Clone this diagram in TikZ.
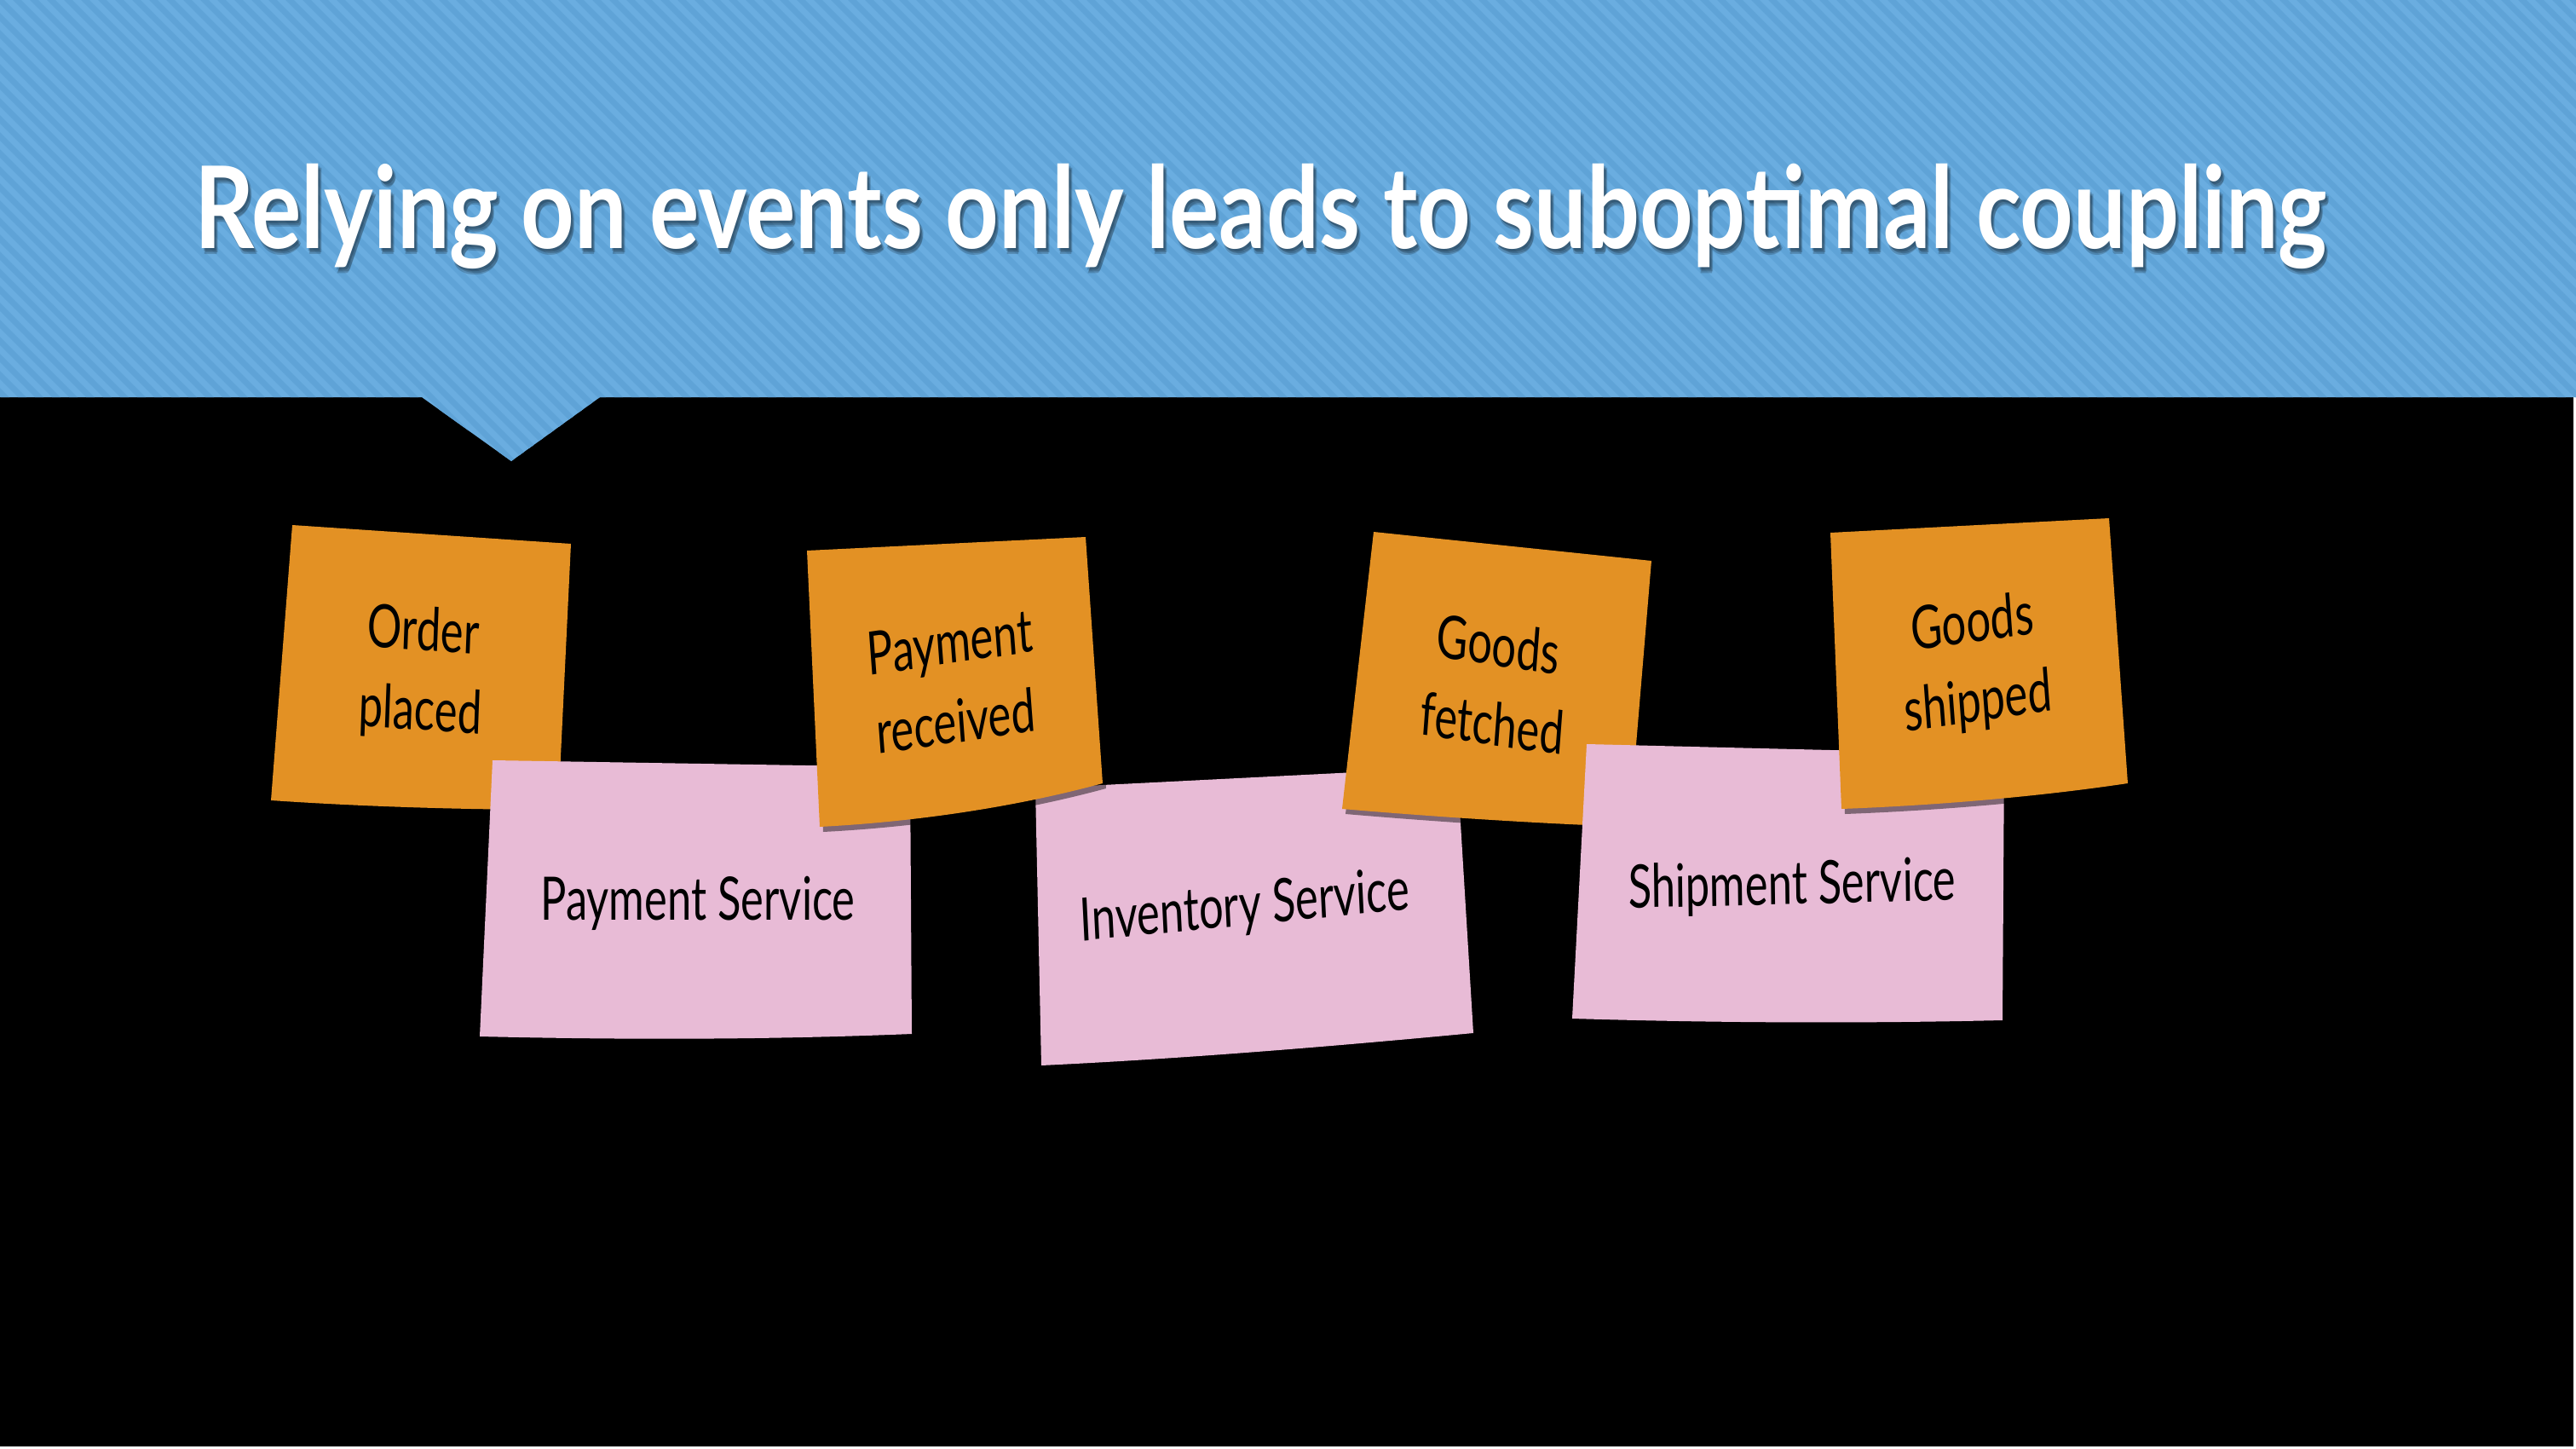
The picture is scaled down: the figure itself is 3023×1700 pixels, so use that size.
\documentclass[tikz,border=0pt]{standalone}
\usepackage{fontspec}
\setmainfont{Lato}
\usepackage{graphicx}

\definecolor{skyA}{HTML}{6AADE0}
\definecolor{skyB}{HTML}{5FA3D7}
\definecolor{noteorange}{HTML}{E39124}
\definecolor{notepink}{HTML}{E8BBD6}

\tikzset{
  eventnote/.style={fill=noteorange,
    preaction={fill=black, fill opacity=0.45,
      transform canvas={xshift=0.04cm, yshift=-0.06cm}}},
  servicenote/.style={fill=notepink,
    preaction={fill=black, fill opacity=0.45,
      transform canvas={xshift=0.04cm, yshift=-0.06cm}}},
  notetext/.style={font=\fontsize{20}{26.5}\selectfont, align=center,
    text=black, xscale=0.72, inner sep=0pt},
  titletext/.style={font=\bfseries\fontsize{38}{40}\selectfont,
    anchor=base west, inner sep=0pt},
}

\newcommand{\slidetitle}{\resizebox{25cm}{\height}{Relying on events only leads to suboptimal coupling}}

\begin{document}
\begin{tikzpicture}[x=0.01cm, y=-0.01cm]
  \useasboundingbox (0,0) rectangle (3023,1700);
  % slide background with its thin light frame
  \fill[white] (0,0) rectangle (3023,1700);
  \fill[black] (0,0) rectangle (3020,1697);

  % striped header banner with the pointer notch
  \fill[skyA] (0,0) -- (3023,0) -- (3023,466) -- (704,466) -- (600,541)
     -- (495,466) -- (0,466) -- cycle;
  \begin{scope}
    \clip (0,0) -- (3023,0) -- (3023,466) -- (704,466) -- (600,541)
       -- (495,466) -- (0,466) -- cycle;
    \foreach \k in {-620,-600,...,3040}
      \draw[skyB, line width=0.07cm] (\k,-20) -- ++(600,600);
  \end{scope}

  % title with a soft shadow
  \foreach \dx/\dy in {2/3,4/5,3/6}
    \node[titletext, text=black, text opacity=0.18] at (228+\dx,292+\dy) {\slidetitle};
  \node[titletext, text=white] (title) at (228,292) {\slidetitle};

  % sticky notes, back to front
  \fill[eventnote] (343,616) -- (670,638) -- (655,950)
     .. controls (540,950) and (420,946) .. (318,939) -- cycle;
  \fill[servicenote] (578,892) -- (1068,900) -- (1070,1213)
     .. controls (900,1220) and (730,1220) .. (563,1216) -- cycle;
  \fill[servicenote] (1215,925) -- (1710,900) -- (1729,1212)
     .. controls (1560,1228) and (1390,1242) .. (1222,1250) -- cycle;
  \fill[eventnote] (947,646) -- (1274,630) -- (1294,919)
     .. controls (1180,950) and (1060,965) .. (962,970) -- cycle;
  \fill[eventnote] (1612,624) -- (1938,658) -- (1912,970)
     .. controls (1800,966) and (1680,958) .. (1575,949) -- cycle;
  \fill[servicenote] (1862,873) -- (2352,885) -- (2350,1197)
     .. controls (2180,1201) and (2010,1200) .. (1845,1195) -- cycle;
  \fill[eventnote] (2148,625) -- (2475,608) -- (2497,919)
     .. controls (2390,935) and (2270,945) .. (2161,949) -- cycle;

  % note labels
  \node[notetext, rotate=-3] (orderplaced) at (495,790) {Order\\placed};
  \node[notetext, rotate=6] (paymentreceived) at (1118,800) {Payment\\received};
  \node[notetext, rotate=-6] (goodsfetched) at (1755,802) {Goods\\fetched};
  \node[notetext, rotate=6] (goodsshipped) at (2318,780) {Goods\\shipped};
  \node[notetext] (paymentservice) at (819,1060) {Payment Service};
  \node[notetext, rotate=4] (inventoryservice) at (1461,1066) {Inventory Service};
  \node[notetext, rotate=1] (shipmentservice) at (2103,1041) {Shipment Service};
\end{tikzpicture}
\end{document}
